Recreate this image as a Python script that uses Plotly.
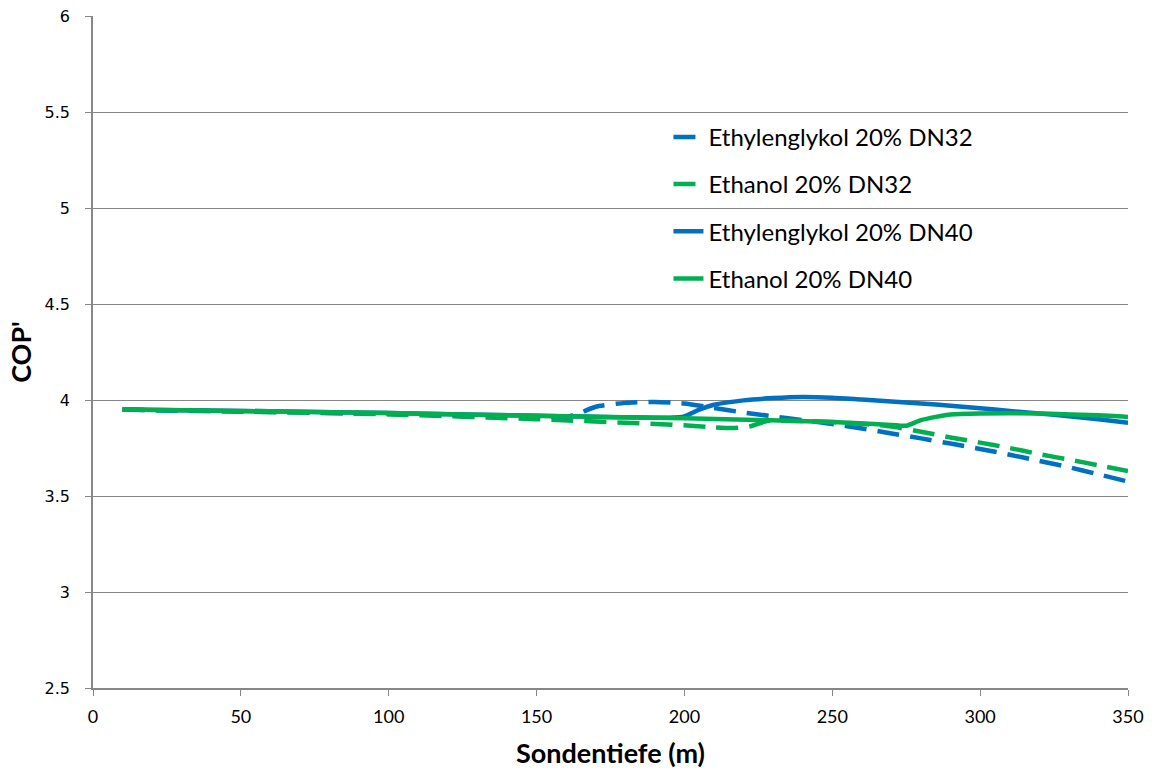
import plotly.graph_objects as go

# Ethylenglykol 20% DN32 (dashed blue)
x_eg32 = [10, 50, 100, 150, 160, 165, 170, 180, 190, 200, 210, 220, 230, 240, 250, 260, 270, 280, 290, 300, 310, 320, 330, 340, 350]
y_eg32 = [3.95, 3.94, 3.928, 3.915, 3.912, 3.935, 3.965, 3.985, 3.99, 3.982, 3.958, 3.935, 3.915, 3.895, 3.875, 3.852, 3.826, 3.80, 3.773, 3.745, 3.715, 3.683, 3.65, 3.613, 3.575]

# Ethanol 20% DN32 (dashed green)
x_et32 = [10, 50, 100, 150, 200, 210, 216, 222, 228, 240, 250, 260, 270, 280, 290, 300, 310, 320, 330, 340, 350]
y_et32 = [3.95, 3.94, 3.925, 3.90, 3.868, 3.858, 3.854, 3.862, 3.89, 3.89, 3.885, 3.876, 3.862, 3.835, 3.805, 3.778, 3.75, 3.718, 3.69, 3.66, 3.63]

# Ethylenglykol 20% DN40 (solid blue)
x_eg40 = [10, 50, 100, 150, 195, 200, 205, 210, 220, 230, 240, 250, 260, 270, 280, 290, 300, 310, 320, 330, 340, 350]
y_eg40 = [3.95, 3.943, 3.932, 3.918, 3.908, 3.915, 3.95, 3.975, 3.998, 4.01, 4.016, 4.012, 4.002, 3.992, 3.982, 3.97, 3.957, 3.943, 3.93, 3.915, 3.9, 3.882]

# Ethanol 20% DN40 (solid green)
x_et40 = [10, 50, 100, 150, 200, 250, 270, 275, 280, 285, 290, 300, 320, 340, 350]
y_et40 = [3.95, 3.943, 3.932, 3.918, 3.905, 3.885, 3.87, 3.866, 3.895, 3.912, 3.925, 3.93, 3.93, 3.92, 3.912]

names = ["Ethylenglykol 20% DN32", "Ethanol 20% DN32", "Ethylenglykol 20% DN40", "Ethanol 20% DN40"]
x_ticks = [0, 50, 100, 150, 200, 250, 300, 350]
y_ticks = [2.5, 3, 3.5, 4, 4.5, 5, 5.5, 6]
y_ticktext = ["2.5", "3", "3.5", "4", "4.5", "5", "5.5", "6"]

blue = "#0070C0"
green = "#00B050"
dash = "22px,11px"

fig = go.Figure()
series = [
    (x_eg32, y_eg32, names[0], blue, dash),
    (x_et32, y_et32, names[1], green, dash),
    (x_eg40, y_eg40, names[2], blue, "solid"),
    (x_et40, y_et40, names[3], green, "solid"),
]
for i, (xs, ys, nm, col, d) in enumerate(series):
    fig.add_trace(go.Scatter(
        x=xs, y=ys, name=nm, mode="lines", legendgroup=str(i),
        line=dict(color=col, width=4.5, dash=d, shape="spline", smoothing=0.6),
    ))

axis_col = "#868686"
fig.update_layout(
    width=1157, height=773,
    margin=dict(l=93, r=29, t=16, b=85),
    plot_bgcolor="white", paper_bgcolor="white",
    font=dict(family="Lato, Open Sans, sans-serif", size=18, color="black"),
    showlegend=True,
    legend=dict(x=0.556, y=0.853, xanchor="left", yanchor="top",
                font=dict(size=24, family="Lato, Open Sans, sans-serif"),
                tracegroupgap=13, bgcolor="rgba(0,0,0,0)"),
    xaxis=dict(range=[0, 350], tickvals=x_ticks, automargin=False,
               showgrid=False, showline=True, linecolor=axis_col, linewidth=1.5,
               ticks="outside", ticklen=6, tickcolor=axis_col, zeroline=False,
               tickfont=dict(size=18, family="Lato, sans-serif"),
               ticklabelstandoff=6,
               title=dict(text="<b>Sondentiefe (m)</b>", font=dict(size=27), standoff=18)),
    yaxis=dict(range=[2.5, 6], tickvals=y_ticks, ticktext=y_ticktext, automargin=False,
               showgrid=True, gridcolor=axis_col, gridwidth=1,
               showline=True, linecolor=axis_col, linewidth=1.5,
               ticks="outside", ticklen=6, tickcolor=axis_col, zeroline=False,
               tickfont=dict(size=16, family="DejaVu Sans, Verdana, sans-serif"),
               ticklabelstandoff=12,
               title=dict(text="<b>COP'</b>", font=dict(size=27), standoff=5)),
)

fig.write_html("out.html")
